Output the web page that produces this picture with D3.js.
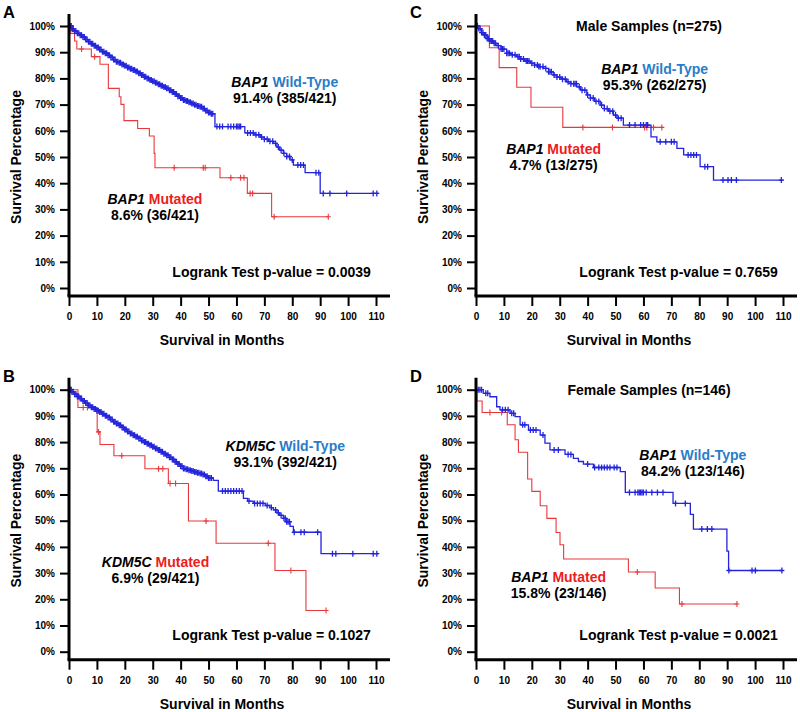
<!DOCTYPE html>
<html><head><meta charset="utf-8">
<script src="https://cdn.jsdelivr.net/npm/d3@7"></script>
<style>
body{margin:0;background:#fff;}
text{font-family:"Liberation Sans",Arial,sans-serif;font-weight:bold;}
</style></head>
<body><svg id="c" width="800" height="712"></svg>
<script>
// ---------- DATA ----------
const monthTicks = [0,10,20,30,40,50,60,70,80,90,100,110];
const pctTicks = [0,10,20,30,40,50,60,70,80,90,100];

// Panel A : BAP1 all samples
const aWildSteps = [[0,100],[1,99],[2,98],[3,97.2],[4,96.5],[5,95.8],[6,94.8],[7,94],[8,93.2],[9,92.5],[10,91.8],[11,91],[12,90.2],[13,89.6],[14,88.8],[15,88],[16,87.2],[17,86.4],[18,86],[19,85.3],[20,84.8],[21,84.2],[22,83.7],[23,83.2],[24,82.6],[25,82],[26,81.3],[27,80.6],[28,80],[29,79.4],[30,78.9],[31,78.3],[32,77.8],[33,77.2],[34,76.7],[35,76.2],[36,75.5],[37,74.8],[38,74],[39,73.2],[40,72.5],[41,71.8],[42,71.4],[43,70.9],[44,70.4],[45,69.9],[46,69.5],[47,69.2],[48,68.5],[49,67.7],[50,67],[51,66.5],[52.3,61.6],[63,59.2],[66.5,58.5],[68.5,57.6],[70,56.8],[71.5,56],[73.2,55.2],[74.5,53.8],[75.5,52.6],[76.8,51.4],[78,50.2],[79.2,48.9],[80.4,46.9],[84.6,44],[90,36.1]];
const aWildEnd = 110.9;
const aWildCensor = [0.3,0.5,0.8,1,1.3,1.5,2,2.5,3,3.5,4,4.5,5,5.5,6,6.5,7,7.5,8,8.5,9,9.5,10,10.5,11,11.5,12,12.5,13,13.5,14,14.5,15,15.5,16,16.5,17,17.5,18,18.5,19,19.5,20,20.5,21,21.5,22,22.5,23,23.5,24,24.5,25,25.5,26,26.5,27,27.5,28,28.5,29,29.5,30,30.5,31,31.5,32,32.5,33,33.5,34,34.5,35,35.5,36,36.5,37,37.5,38,38.5,39,39.5,40,40.5,41,41.5,42,42.5,43,43.5,44,44.5,45,45.5,46,46.5,47,47.5,48,48.5,49,49.5,50,50.5,51,51.5,53,54,55,57,58,59,60,60.5,61,61.5,64,65,66,67,68,69,70,71,72,73,74,75,76,77,78,79,80,82,83,84,88.5,89.5,91.1,93.5,99.5,109,110.3];
const aMutSteps = [[0,100],[0.5,97.2],[2,94.3],[2.8,91.2],[8,88.3],[11.1,85.4],[14.1,76.2],[18,73],[18.6,70.1],[19.7,63.9],[24.6,60.9],[28.8,58],[30.5,51.4],[30.8,45.9],[54.1,42.1],[63.9,36.1],[72.6,27.2]];
const aMutEnd = 92.9;
const aMutCensor = [4.5,9.2,37.7,48.1,48.8,58,61.5,62.7,64.9,65.8,73.5,92.9];

// Panel B : KDM5C all samples
const bWildSteps = [[0,100],[1,99.2],[2,98.3],[3,97.4],[4,96.6],[5,95.7],[6,94.9],[7,94],[8,93.3],[9,92.6],[10,92],[11,91.5],[12,90.8],[13,90.1],[14,89.4],[15,88.6],[16,87.8],[17,87.1],[18,86.4],[19,85.6],[20,84.8],[21,84],[22,83.3],[23,82.6],[24,82],[25,81.4],[26,80.6],[27,80],[28,79.4],[29,78.8],[30,78.2],[31,77.6],[32,77],[33,76.3],[34,75.6],[35,75],[36,74.2],[37,73.4],[38,72.5],[39,71.6],[40,70.8],[41,69.9],[42,69.6],[43,69.3],[44,69],[45,68.6],[46,68.3],[47,68],[48,67.6],[49,67],[50,66.3],[51.7,65.4],[53.5,61.3],[62.5,58.5],[64,57.5],[66,56.6],[70.3,55.8],[72,55],[73.2,54.1],[74.5,53],[75.5,52],[76.8,50.9],[78,49.6],[79.2,47.8],[80.4,45.6],[90.3,37.4]];
const bWildEnd = 110.9;
const bWildCensor = [0.3,0.5,0.8,1,1.5,2,2.5,3,3.5,4,4.5,5,5.5,6,6.5,7,7.5,8,8.5,9,9.5,10,10.5,11,11.5,12,12.5,13,13.5,14,14.5,15,15.5,16,16.5,17,17.5,18,18.5,19,19.5,20,20.5,21,21.5,22,22.5,23,23.5,24,24.5,25,25.5,26,26.5,27,27.5,28,28.5,29,29.5,30,30.5,31,31.5,32,32.5,33,33.5,34,34.5,35,35.5,36,36.5,37,37.5,38,38.5,39,39.5,40,40.5,41,41.5,42,42.5,43,43.5,44,44.5,45,45.5,46,46.5,47,47.5,48,48.5,49,49.5,50,50.5,51,55,56,57,58,59,60,61,62,64.5,66.5,67.5,68.5,69.5,71,72.5,74,75,76,77,77.5,78,78.5,79,80.7,83.1,84.3,89.1,94.4,95.6,101.7,109,110.3];
const bMutSteps = [[0,100],[3.2,93.2],[10.1,83.9],[11.1,79.1],[16.1,74.8],[27.2,69.8],[35.6,64.2],[42.8,49.9],[52.7,41.4],[73.8,31],[84.9,15.7]];
const bMutEnd = 92.1;
const bMutCensor = [5.1,6.6,10.6,18.9,32.1,33.6,36.2,38.2,49.1,71.4,79.5,92.1];

// Panel C : BAP1 male samples
const cWildSteps = [[0,100],[1,99],[2,97.5],[2.6,96.6],[4,95.2],[5,94.3],[6.2,93.4],[7.5,92.5],[9,91.2],[11,89.6],[12.5,89],[14.6,88.3],[16,87.4],[17.5,86.6],[19.4,85.8],[21,85.1],[22.5,84.5],[24.1,83.8],[26,82.5],[27.7,81.3],[29,80.5],[30.5,79.7],[32.5,78.7],[34,78],[36.1,76.8],[37.5,75.5],[39.7,73.7],[41,72.5],[42.5,71.2],[44.5,69.8],[46,68.5],[47.5,67.5],[49.2,66],[50.5,64.8],[52.8,62.2],[62.7,57.7],[64.8,55.8],[72,53.3],[74.4,50.8],[80.3,46.3],[85.1,41.2]];
const cWildEnd = 110.2;
const cWildCensor = [0.3,0.5,1,1.5,2,2.5,3,3.5,4,4.5,5,5.5,6,6.5,7,8,9,9.5,10,11,11.5,12,13,14,15,15.5,16,17,18,18.5,19,20,21,22,22.5,23,24,25,26,26.5,27,28,29,30,31,32,33,34,35,35.5,36,37,38,39,40,41,42,43,44,45,46,47,48,49,50,51,52,55,57,59,60,61,61.5,66,68,70,71,76,77,78,79,82,83,88.5,90.3,91.5,93.3,109.4];
const cMutSteps = [[0,100],[4.8,91.7],[8.3,84.1],[14.6,76.6],[19.7,69],[31.1,61.3]];
const cMutEnd = 66.6;
const cMutCensor = [38.3,48.9,60.4,61.2,63.6,66.6];

// Panel D : BAP1 female samples
const dWildSteps = [[0,100],[2.6,98.6],[5,97.3],[7.4,93.5],[8.6,92.3],[12.2,91],[14,89.7],[15.8,86.6],[18.8,84.6],[23,82.7],[24.7,79.6],[26.5,77],[31.9,75.3],[34.9,73.8],[36.7,72.6],[38.5,71.6],[42.1,70.3],[51.7,68.7],[53.5,60.8],[70.6,56.6],[76.8,52.4],[77.9,46.8],[89.9,38.4],[90.5,31]];
const dWildEnd = 109.6;
const dWildCensor = [0.8,1.4,2,3.5,4.2,9.5,10.5,11.5,12.8,13.5,16.7,17.5,19.5,20.5,21.5,24,28,29.5,33,34,40,42.5,44,45,46,47,48,49.5,50.5,55,57,58,58.5,59,59.5,60,61,63,65,67,71.5,75,80.9,82.9,84.5,90.6,98.9,100.1,109.6];
const dMutSteps = [[0,100],[0.3,95.7],[2.2,91.3],[11.2,86.6],[14,80.9],[15.2,76.1],[18.5,65.9],[20,61.2],[23,55.7],[25.4,50.9],[28.7,45.5],[30.1,40.8],[31.4,35.4],[54.6,30.4],[64.2,24.3],[72.9,18.2]];
const dMutEnd = 93.5;
const dMutCensor = [5,9.2,57.8,73.8,93.5];

const panelLetters = ["A","B","C","D"];
const geneNames = ["BAP1","KDM5C","BAP1","BAP1"];
const wildPcts = ["91.4% (385/421)","93.1% (392/421)","95.3% (262/275)","84.2% (123/146)"];
const mutPcts = ["8.6% (36/421)","6.9% (29/421)","4.7% (13/275)","15.8% (23/146)"];
const pValues = ["0.0039","0.1027","0.7659","0.0021"];
const subTitles = ["","","Male Samples (n=275)","Female Samples (n=146)"];

// ---------- DRAW ----------
const svg = d3.select("#c");
const BLUE = "#2424dc", RED = "#e8383c", TBLUE = "#2a7cc8", TRED = "#ee1c1c";

function stepValue(steps, t){
  let v = steps[0][1];
  for (const s of steps){ if (s[0] <= t) v = s[1]; else break; }
  return v;
}

function drawPanel(i, left, top, wild, mut, labelPos){
  const g = svg.append("g");
  const x = d3.scaleLinear().domain([0,110]).range([left, left+307]);
  const y = d3.scaleLinear().domain([0,100]).range([top+262, top]);
  const axisY = top + 270;

  // curves
  const line = d3.line().x(d=>x(d[0])).y(d=>y(d[1])).curve(d3.curveStepAfter);
  [[mut,RED,1.1],[wild,BLUE,1.3]].forEach(([s,col,w])=>{
    const pts = s.steps.concat([[s.end, s.steps[s.steps.length-1][1]]]);
    g.append("path").attr("d", line(pts)).attr("fill","none").attr("stroke",col).attr("stroke-width",w);
    g.append("g").selectAll("path").data(s.censor).join("path")
      .attr("d", t=>{const cx=x(t), cy=y(stepValue(s.steps,t));
        return `M${cx-2.5},${cy}H${cx+2.5}M${cx},${cy-3}V${cy+3}`;})
      .attr("stroke",col).attr("stroke-width",w).attr("fill","none");
  });

  // axes
  const ya = d3.axisLeft(y).tickValues(pctTicks).tickFormat(d=>d+"%").tickSize(9).tickPadding(5);
  const yg = g.append("g").attr("transform",`translate(${left},0)`).call(ya);
  const xa = d3.axisBottom(x).tickValues(monthTicks).tickSize(10).tickPadding(7);
  const xg = g.append("g").attr("transform",`translate(0,${axisY})`).call(xa);
  [yg,xg].forEach(a=>{
    a.select(".domain").remove();
    a.selectAll(".tick line").attr("stroke","#000").attr("stroke-width",2);
    a.selectAll(".tick text").attr("font-size",10).attr("fill","#000")
      .style("font-family",'"Liberation Sans",Arial,sans-serif').style("font-weight","bold");
  });
  g.append("line").attr("x1",left).attr("x2",left).attr("y1",top-12).attr("y2",axisY)
    .attr("stroke","#000").attr("stroke-width",3);
  g.append("line").attr("x1",left-1.5).attr("x2",left+321).attr("y1",axisY).attr("y2",axisY)
    .attr("stroke","#000").attr("stroke-width",3);

  // axis titles
  g.append("text").attr("x",left+153).attr("y",axisY+49).attr("text-anchor","middle")
    .attr("font-size",14).text("Survival in Months");
  g.append("text").attr("transform",`translate(${left-48.5},${top+131}) rotate(-90)`)
    .attr("text-anchor","middle").attr("font-size",14).text("Survival Percentage");

  // panel letter
  g.append("text").attr("x",left-66).attr("y",top-8).attr("font-size",16.5).text(panelLetters[i]);

  // annotations
  const P = labelPos;
  const t1 = g.append("text").attr("x",x(P.wild[0])).attr("y",y(P.wild[1])).attr("text-anchor","middle").attr("font-size",14);
  t1.append("tspan").attr("font-style","italic").text(geneNames[i]+" ");
  t1.append("tspan").attr("fill",TBLUE).text("Wild-Type");
  g.append("text").attr("x",x(P.wild[0])).attr("y",y(P.wild[1])+16).attr("text-anchor","middle").attr("font-size",14).text(wildPcts[i]);
  const t2 = g.append("text").attr("x",x(P.mut[0])).attr("y",y(P.mut[1])).attr("text-anchor","middle").attr("font-size",14);
  t2.append("tspan").attr("font-style","italic").text(geneNames[i]+" ");
  t2.append("tspan").attr("fill",TRED).text("Mutated");
  g.append("text").attr("x",x(P.mut[0])).attr("y",y(P.mut[1])+16).attr("text-anchor","middle").attr("font-size",14).text(mutPcts[i]);
  g.append("text").attr("x",x(72.6)).attr("y",y(4.3)).attr("text-anchor","middle").attr("font-size",14)
    .text("Logrank Test p-value = "+pValues[i]);
  if (subTitles[i]) g.append("text").attr("x",x(62)).attr("y",y(98)).attr("text-anchor","middle").attr("font-size",14).text(subTitles[i]);
}

drawPanel(0, 69, 26,
  {steps:aWildSteps,end:aWildEnd,censor:aWildCensor},{steps:aMutSteps,end:aMutEnd,censor:aMutCensor},
  {wild:[77.3,76.7],mut:[30.8,32.1]});
drawPanel(1, 69, 389.7,
  {steps:bWildSteps,end:bWildEnd,censor:bWildCensor},{steps:bMutSteps,end:bMutEnd,censor:bMutCensor},
  {wild:[77.5,76.5],mut:[31,32.3]});
drawPanel(2, 476, 26,
  {steps:cWildSteps,end:cWildEnd,censor:cWildCensor},{steps:cMutSteps,end:cMutEnd,censor:cMutCensor},
  {wild:[64,81.7],mut:[27.8,51.1]});
drawPanel(3, 476, 389.7,
  {steps:dWildSteps,end:dWildEnd,censor:dWildCensor},{steps:dMutSteps,end:dMutEnd,censor:dMutCensor},
  {wild:[77.7,73.2],mut:[29.6,26.6]});
</script></body></html>
